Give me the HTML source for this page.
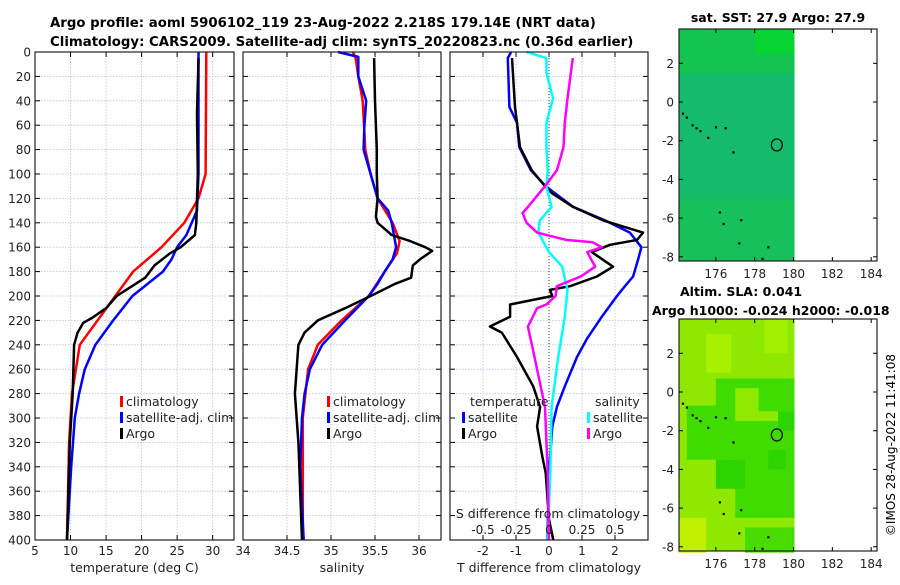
<!DOCTYPE html>
<html><head><meta charset="utf-8"><style>
body{margin:0;background:#fff;}
svg text{font-family:"DejaVu Sans","Liberation Sans",sans-serif;}
</style></head><body>
<svg id="c" width="900" height="580" xmlns="http://www.w3.org/2000/svg">
<text x="50" y="27" font-size="13.3" font-weight="bold">Argo profile: aoml 5906102_119 23-Aug-2022 2.218S 179.14E (NRT data)</text>
<text x="50" y="46" font-size="13.3" font-weight="bold">Climatology: CARS2009. Satellite-adj clim: synTS_20220823.nc (0.36d earlier)</text>
<text x="778" y="22" font-size="12.5" font-weight="bold" text-anchor="middle">sat. SST: 27.9 Argo: 27.9</text>
<text x="680" y="296" font-size="12.5" font-weight="bold">Altim. SLA: 0.041</text>
<text x="652" y="315" font-size="12.5" font-weight="bold">Argo h1000: -0.024 h2000: -0.018</text>
<text transform="translate(895,445) rotate(-90)" font-size="12" text-anchor="middle">©IMOS 28-Aug-2022 11:41:08</text>
<g id="g"></g>
</svg>
<script>
// ---- data ----
const clmTdep=[0,100,120,140,160,180,200,240,280,320,400];
const clmT=[29.1,29.0,28.0,26.0,22.8,18.8,16.3,11.3,10.2,9.8,9.5];
const satTdep=[0,100,130,150,160,170,180,200,220,240,260,280,300,340,400];
const satT=[28.0,28.0,27.8,26.3,25.0,24.2,23.0,18.7,16.0,13.5,12.0,11.2,10.6,10.1,9.5];
const argTdep=[5,50,100,140,150,160,165,175,185,200,210,218,222,230,240,280,320,400];
const argT=[28.0,27.8,27.9,27.7,27.5,25.5,24.0,21.8,20.5,16.5,15.0,13.0,11.8,11.0,10.5,10.3,9.9,9.5];
const clmSdep=[0,5,20,40,80,100,120,140,155,165,180,200,220,240,260,300,400];
const clmS=[35.25,35.28,35.31,35.36,35.39,35.45,35.53,35.70,35.78,35.75,35.61,35.43,35.12,34.85,34.74,34.68,34.68];
const satSdep=[0,4,20,40,60,80,100,120,130,140,160,170,180,190,200,220,240,260,280,300,340,400];
const satS=[35.08,35.31,35.31,35.40,35.38,35.37,35.45,35.53,35.65,35.69,35.74,35.70,35.61,35.53,35.43,35.16,34.90,34.76,34.70,34.67,34.65,34.69];
const argSdep=[5,40,80,100,120,135,140,150,155,160,163,170,175,185,190,200,210,220,230,240,280,320,400];
const argS=[35.49,35.50,35.52,35.52,35.53,35.51,35.53,35.69,35.90,36.07,36.15,36.01,35.93,35.91,35.73,35.45,35.16,34.85,34.70,34.63,34.59,34.63,34.67];
const dTargDep=[5,45,78,97,110,116,127,138,148,154,158,164,176,184,192,195,200,207,217,225,230,250,274,291,307,332,345,383,400];
const dTarg=[-1.12,-1.03,-0.88,-0.52,-0.12,0.1,0.73,1.64,2.85,2.67,1.85,1.3,1.94,1.45,0.64,0.03,0.1,-1.18,-1.18,-1.79,-1.43,-0.97,-0.48,-0.27,-0.36,-0.2,-0.1,0,0.13];
const dTsatDep=[0,5,45,58,78,97,110,127,138,148,160,170,184,192,200,217,235,250,274,291,307,345,400];
const dTsat=[-1.15,-1.25,-1.2,-0.97,-0.9,-0.55,-0.1,0.73,1.7,2.45,2.8,2.7,2.55,2.3,2.06,1.6,1.15,0.85,0.48,0.24,0.1,0.0,-0.05];
const dSsatDep=[0,5,17,38,58,78,97,110,127,138,148,164,176,195,217,250,291,345,400];
const dSsat=[-0.17,-0.02,-0.02,0.03,-0.02,-0.02,-0.01,-0.02,0.02,-0.07,-0.08,0,0.1,0.14,0.12,0.07,0.02,0.01,-0.01];
const dSargDep=[5,38,58,78,97,110,127,132,140,148,154,156,160,164,170,176,184,192,200,207,210,225,250,291,345,400];
const dSarg=[0.18,0.14,0.12,0.11,0.06,-0.03,-0.16,-0.2,-0.17,-0.09,0.13,0.33,0.40,0.29,0.32,0.35,0.24,0.06,0.05,-0.02,-0.09,-0.16,-0.11,-0.03,-0.01,0.0];
const depthTicks=[0,20,40,60,80,100,120,140,160,180,200,220,240,260,280,300,320,340,360,380,400];
const tTicks=[5,10,15,20,25,30];
const sTicks=[34,34.5,35,35.5,36];
const dTTicks=[-2,-1,0,1,2];
const dSTicks=[-0.5,-0.25,0,0.25,0.5];
const dSTickLabels=["-0.5","-0.25","0","0.25","0.5"];
const latTicks=[2,0,-2,-4,-6,-8];
const lonTicks=[176,178,180,182,184];
const argoLon=179.14, argoLat=-2.218;
const islandLon=[174.3,174.5,174.8,175.0,175.2,175.6,176.0,176.5,176.9,176.2,176.4,177.3,177.2,178.7,178.4];
const islandLat=[-0.6,-0.8,-1.2,-1.35,-1.5,-1.85,-1.3,-1.35,-2.6,-5.7,-6.3,-6.1,-7.3,-7.5,-8.1];

// ---- helpers ----
const NS='http://www.w3.org/2000/svg';
const G=document.getElementById('g');
function mk(tag,at,parent){const e=document.createElementNS(NS,tag);for(const k in at)e.setAttribute(k,at[k]);(parent||G).appendChild(e);return e;}
const Y=d=>52+d*488/400;
const P1={l:35,r:234,x0:5,x1:33}, P2={l:243,r:441,x0:34,x1:36.25}, P3={l:450,r:648,x0:-3,x1:3};
const sx=(p,v)=>p.l+(v-p.x0)*(p.r-p.l)/(p.x1-p.x0);
const sS3=v=>549+v*132;

function panel(p,name,xt,xlab,ylabels){
  const g=mk('g',{});
  
  
  depthTicks.forEach(d=>{
    if(d>0&&d<400){const l=mk('line',{x1:p.l,x2:p.r,y1:Y(d),y2:Y(d),stroke:'#b8c4e0','stroke-width':0.8,'stroke-dasharray':'1.5,1.5'},g);
      }
    mk('line',{x1:p.l,x2:p.l+5,y1:Y(d),y2:Y(d),stroke:'#000'},g);
    mk('line',{x1:p.r-5,x2:p.r,y1:Y(d),y2:Y(d),stroke:'#000'},g);
    if(ylabels){const t=mk('text',{x:p.l-4,y:Y(d)+4.5,'font-size':12,'text-anchor':'end',fill:'#222'},g);t.textContent=d;
      }
  });
  xt.forEach(v=>{const x=sx(p,v);
    if(x>p.l+1&&x<p.r-1){const l=mk('line',{x1:x,x2:x,y1:52,y2:540,stroke:'#b8c4e0','stroke-width':0.8,'stroke-dasharray':'1.5,1.5'},g);
      }
    mk('line',{x1:x,x2:x,y1:540,y2:535,stroke:'#000'},g);
    mk('line',{x1:x,x2:x,y1:52,y2:57,stroke:'#000'},g);
    const t=mk('text',{x:x,y:555,'font-size':12,'text-anchor':'middle',fill:'#222'},g);t.textContent=v;
    
  });
  const t=mk('text',{x:(p.l+p.r)/2,y:572,'font-size':12.5,'text-anchor':'middle',fill:'#222'},g);t.textContent=xlab;
  
  return g;
}
function line(g,xs,ds,fx,col,name){
  const pts=xs.map((v,i)=>fx(v).toFixed(1)+','+Y(ds[i]).toFixed(1)).join(' ');
  const l=mk('polyline',{points:pts,fill:'none',stroke:col,'stroke-width':2.5,'stroke-linejoin':'round'},g);
  
  
}
function box(p,g){const r=mk('rect',{x:p.l,y:52,width:p.r-p.l,height:488,fill:'none',stroke:'#222','stroke-width':1.2},g);
  }
function legend(g,x,y,col,txt){
  mk('rect',{x:x,y:y-10,width:3,height:11,fill:col},g);
  const t=mk('text',{x:x+6,y:y,'font-size':12.5,fill:'#222'},g);t.textContent=txt;
  
}

// panel 1
const g1=panel(P1,'temperature-panel',tTicks,'temperature (deg C)',true);
line(g1,clmT,clmTdep,v=>sx(P1,v),'#f00','climatology-temp-line');
line(g1,satT,satTdep,v=>sx(P1,v),'#00f','satellite-temp-line');
line(g1,argT,argTdep,v=>sx(P1,v),'#000','argo-temp-line');
box(P1,g1);
legend(g1,120,406,'#f00','climatology');legend(g1,120,422,'#00f','satellite-adj. clim');legend(g1,120,438,'#000','Argo');
// panel 2
const g2=panel(P2,'salinity-panel',sTicks,'salinity',false);
line(g2,clmS,clmSdep,v=>sx(P2,v),'#f00','climatology-sal-line');
line(g2,satS,satSdep,v=>sx(P2,v),'#00f','satellite-sal-line');
line(g2,argS,argSdep,v=>sx(P2,v),'#000','argo-sal-line');
box(P2,g2);
legend(g2,327,406,'#f00','climatology');legend(g2,327,422,'#00f','satellite-adj. clim');legend(g2,327,438,'#000','Argo');
// panel 3
const g3=panel(P3,'difference-panel',dTTicks,'T difference from climatology',false);
mk('line',{x1:549,x2:549,y1:52,y2:540,stroke:'#444','stroke-width':1,'stroke-dasharray':'1,2'},g3);
line(g3,dTsat,dTsatDep,v=>sx(P3,v),'#00f','temp-diff-satellite-line');
line(g3,dTarg,dTargDep,v=>sx(P3,v),'#000','temp-diff-argo-line');
line(g3,dSsat,dSsatDep,sS3,'#0ff','sal-diff-satellite-line');
line(g3,dSarg,dSargDep,sS3,'#f0f','sal-diff-argo-line');
box(P3,g3);
{const t=mk('text',{x:470,y:406,'font-size':12.5,fill:'#222'},g3);t.textContent='temperature';
 
 const t2=mk('text',{x:595,y:406,'font-size':12.5,fill:'#222'},g3);t2.textContent='salinity';
 }
legend(g3,462,422,'#00f','satellite');legend(g3,462,438,'#000','Argo');
legend(g3,587,422,'#0ff','satellite');legend(g3,587,438,'#f0f','Argo');
{const t=mk('text',{x:548,y:518,'font-size':12.5,'text-anchor':'middle',fill:'#222'},g3);t.textContent='S difference from climatology';
 
 dSTicks.forEach((v,i)=>{const s=mk('text',{x:sS3(v),y:534,'font-size':12,'text-anchor':'middle',fill:'#222'},g3);s.textContent=dSTickLabels[i];
   });}

// maps
function map(name,top,bot,lat0y,patches,base){
  const g=mk('g',{});
  
  
  const L=679,R=877,lonx=v=>L+(v-174.1)*(R-L)/10.2, laty=v=>lat0y-v*19.35;
  const x180=lonx(180.05);
  mk('rect',{x:L,y:top,width:x180-L,height:bot-top,fill:base},g);
  patches.forEach(p=>mk('rect',{x:lonx(p[0]),y:laty(p[3]),width:lonx(p[1])-lonx(p[0]),height:laty(p[2])-laty(p[3]),fill:p[4]},g));
  islandLon.forEach((lo,i)=>{const d=mk('rect',{x:lonx(lo)-1,y:laty(islandLat[i])-1,width:2.2,height:2.2,fill:'#000'},g);
    });
  const c=mk('ellipse',{cx:lonx(argoLon),cy:laty(argoLat),rx:5.5,ry:6,fill:'none',stroke:'#000','stroke-width':1.2},g);
  
  mk('rect',{x:L,y:top,width:R-L,height:bot-top,fill:'none',stroke:'#222','stroke-width':1.2},g);
  latTicks.forEach(v=>{const y=laty(v);mk('line',{x1:L,x2:L+4,y1:y,y2:y,stroke:'#000'},g);mk('line',{x1:R-4,x2:R,y1:y,y2:y,stroke:'#000'},g);
    const t=mk('text',{x:L-5,y:y+4.5,'font-size':12,'text-anchor':'end',fill:'#222'},g);t.textContent=v;
    });
  lonTicks.forEach(v=>{const x=lonx(v);mk('line',{x1:x,x2:x,y1:bot,y2:bot-4,stroke:'#000'},g);mk('line',{x1:x,x2:x,y1:top,y2:top+4,stroke:'#000'},g);
    const t=mk('text',{x:x,y:bot+17,'font-size':12,'text-anchor':'middle',fill:'#222'},g);t.textContent=v;
    });
}
map('sst-map',29,261,102,[[174.1,180.05,1.5,3.8,'#14c450'],[174.1,180.05,-5,1.5,'#14bb6a'],[178,180.05,2.5,3.8,'#06d430']],'#16c05a');
map('sla-map',319,551,392,[
 [176,180.05,-1,0.7,'#40dc00'],[174.5,178,-3.5,-0.7,'#40dc00'],[177,180.05,-6.5,-1.5,'#40dc00'],[176,177.5,-5,-3.5,'#2ed400'],
 [178.7,179.6,-4,-3,'#2ed400'],[179.2,180.05,-2,-1,'#2ed400'],[175.5,176.8,1,3,'#a8f000'],[178.5,179.7,2,3.8,'#a0ee00'],
 [174.1,175.5,-8.3,-6.5,'#c0f000'],[177,178.2,-1.5,0.2,'#90ea00'],[177.5,180.05,-8.3,-7,'#48dc00']],'#8ee800');
</script>
</body></html>
